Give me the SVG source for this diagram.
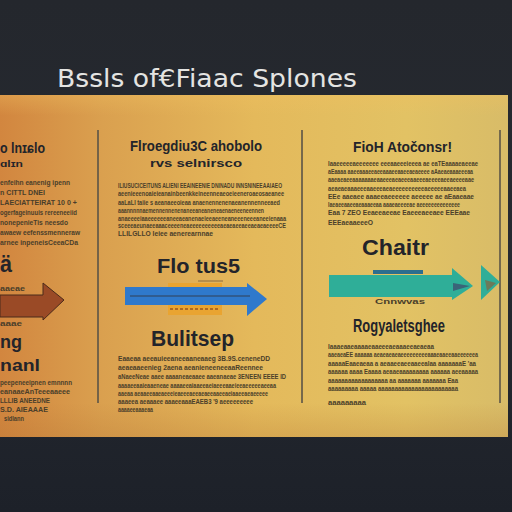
<svg xmlns="http://www.w3.org/2000/svg" width="512" height="512" viewBox="0 0 512 512">
<defs>
<linearGradient id="bg" x1="0" y1="0" x2="0" y2="1">
<stop offset="0" stop-color="#24272d"/><stop offset="0.5" stop-color="#262a31"/><stop offset="1" stop-color="#1d2129"/>
</linearGradient>
<linearGradient id="panel" x1="0" y1="0" x2="1" y2="0">
<stop offset="0" stop-color="#d2863f"/><stop offset="0.2" stop-color="#daa04f"/><stop offset="0.5" stop-color="#e4b95b"/><stop offset="0.8" stop-color="#e2c264"/><stop offset="1" stop-color="#d8bc68"/>
</linearGradient>
<linearGradient id="shade" x1="0" y1="0" x2="0" y2="1">
<stop offset="0" stop-color="#f0c060" stop-opacity="0.35"/><stop offset="0.06" stop-color="#f0c060" stop-opacity="0"/><stop offset="0.9" stop-color="#b07030" stop-opacity="0"/><stop offset="1" stop-color="#b07030" stop-opacity="0.25"/>
</linearGradient>
</defs>
<style>
.title{font-family:"DejaVu Sans","Liberation Sans",sans-serif;font-size:25px;fill:#e4e4e2}
.h{font-family:"Liberation Sans",Arial,sans-serif;font-weight:bold;fill:#23242a}
.b{font-family:"Liberation Sans",Arial,sans-serif;font-weight:bold;font-size:6.5px;fill:#4a3e2a}
.div{stroke:#5b5446;stroke-width:1.6}
</style>
<rect width="512" height="512" fill="url(#bg)"/>
<text class="title" x="57" y="87" textLength="300" lengthAdjust="spacingAndGlyphs">Bssls of€Fiaac Splones</text>
<rect x="0" y="95" width="508" height="342" fill="url(#panel)"/>
<rect x="0" y="95" width="508" height="342" fill="url(#shade)"/>
<g id="dividers">
<line class="div" x1="98" y1="130" x2="98" y2="403"/>
<line class="div" x1="302" y1="130" x2="302" y2="403"/>
<line class="div" x1="500" y1="130" x2="500" y2="403"/>
</g>
<g id="col-left">
<text class="h" x="0" y="153" font-size="14" textLength="45" lengthAdjust="spacingAndGlyphs">o lnɪɕlo</text>
<text class="h" x="0" y="167" font-size="9" textLength="23" lengthAdjust="spacingAndGlyphs">ɑlɪn</text>
<g class="b">
<text x="0" y="185" textLength="70" lengthAdjust="spacingAndGlyphs">enfeihn eanenig ipenn</text>
<text x="0" y="195" textLength="45" lengthAdjust="spacingAndGlyphs">n CITTL DNEI</text>
<text x="0" y="205" textLength="77" lengthAdjust="spacingAndGlyphs">LAECIATTEIRAT 10 0 +</text>
<text x="0" y="215" textLength="77" lengthAdjust="spacingAndGlyphs">ogerfageinuuis rereeneeiid</text>
<text x="0" y="225" textLength="68" lengthAdjust="spacingAndGlyphs">nonepenieTis neesdo</text>
<text x="0" y="235" textLength="80" lengthAdjust="spacingAndGlyphs">awaew eefenssmenneraw</text>
<text x="0" y="245" textLength="78" lengthAdjust="spacingAndGlyphs">arnee inpeneisCeeaCDa</text>
</g>
<text class="h" x="0" y="272" font-size="24" textLength="12" lengthAdjust="spacingAndGlyphs">ä</text>
<text class="h" x="0" y="348" font-size="19" textLength="22" lengthAdjust="spacingAndGlyphs">ng</text>
<text class="h" x="0" y="371" font-size="16" textLength="40" lengthAdjust="spacingAndGlyphs">nanl</text>
<g class="b">
<text x="0" y="385" textLength="72" lengthAdjust="spacingAndGlyphs">peepeneeipnen emnnnn</text>
<text x="0" y="394" textLength="70" lengthAdjust="spacingAndGlyphs">eanaaeAnTeeeaaeee</text>
<text x="0" y="403" textLength="50" lengthAdjust="spacingAndGlyphs">LLLIB ANEEDNE</text>
<text x="0" y="412" textLength="48" lengthAdjust="spacingAndGlyphs">S.D. AIEAAAE</text>
<text x="4" y="421" textLength="20" lengthAdjust="spacingAndGlyphs">sidlann</text>
</g>
</g>
<g id="col-middle">
<text class="h" x="130" y="151" font-size="14" textLength="132" lengthAdjust="spacingAndGlyphs">Flroegdiu3C ahobolo</text>
<text class="h" x="150" y="167" font-size="11" textLength="92" lengthAdjust="spacingAndGlyphs">rvs selnirsco</text>
<g class="b">
<text x="118" y="188" textLength="164" lengthAdjust="spacingAndGlyphs">ILIUSUCICEITUNS ALIENI EEAINEENIE DNINADU INNSNINEEAAIAEO</text>
<text x="118" y="196" textLength="166" lengthAdjust="spacingAndGlyphs">aeenieeenoaieieanainbeenkkeineenneaeoeieeneroaeosaeanee</text>
<text x="118" y="205" textLength="162" lengthAdjust="spacingAndGlyphs">aaLaLI taiie s aeanaeeoieaa anaenennenenaeanennenneeaed</text>
<text x="118" y="213" textLength="146" lengthAdjust="spacingAndGlyphs">aaannnnnaemennennenenaneeaneaneneaenaeneeneennen</text>
<text x="118" y="221" textLength="168" lengthAdjust="spacingAndGlyphs">anaeeeeiaaeeeeeeaneeaeanenaeieeaeeneaneeeneeeaneeienaaa</text>
<text x="118" y="228" textLength="168" lengthAdjust="spacingAndGlyphs">sceeeaeunaeeaaaceeeeneaeeeeeeeeeeaeaeaeeaeeaeaeaeeeeCE</text>
<text x="118" y="236" textLength="95" lengthAdjust="spacingAndGlyphs">LLILGLLO Ieiee aenerearnnae</text>
</g>
<text class="h" x="157" y="273" font-size="20" textLength="83" lengthAdjust="spacingAndGlyphs">Flo tus5</text>
<text class="h" x="151" y="346" font-size="22" textLength="83" lengthAdjust="spacingAndGlyphs">Bulitsep</text>
<g class="b">
<text x="118" y="361" textLength="152" lengthAdjust="spacingAndGlyphs">Eaaeaa aeeauieeaneeaaneaaeg 3B.9S.ceneneDD</text>
<text x="118" y="370" textLength="145" lengthAdjust="spacingAndGlyphs">aeaeaaeenieg 2aena aeanieneeneeaaReennee</text>
<text x="118" y="379" textLength="168" lengthAdjust="spacingAndGlyphs">aNaeeNeae aaee aaaaneaeaaee aaeanaeae 3ENEEN EEEE ID</text>
<text x="118" y="388" textLength="158" lengthAdjust="spacingAndGlyphs">aaaaeeaaieaaeneae aaaaeeaiaaeeaeiaeeeaaeieeaeeeeeaeeaa</text>
<text x="118" y="396" textLength="150" lengthAdjust="spacingAndGlyphs">aaeaa aeaaeeaaeaeeeieaeeeaeeaeaeeaaeeaeiaaeeaeaeeeee</text>
<text x="118" y="404" textLength="135" lengthAdjust="spacingAndGlyphs">aaaeea aeaaaee aaaeeaaaEAEB3 '9 aeeeeeeeee</text>
<text x="118" y="412" textLength="35" lengthAdjust="spacingAndGlyphs">aaaaeeaaaeaa</text>
</g>
</g>
<g id="col-right">
<text class="h" x="353" y="152" font-size="15" textLength="99" lengthAdjust="spacingAndGlyphs">FioH Atočonsr!</text>
<g class="b">
<text x="328" y="166" textLength="150" lengthAdjust="spacingAndGlyphs">Iaaeeeeeaeeeeeee eeeaaeeeieeea ae eaTEaaaaeaeeae</text>
<text x="328" y="174" textLength="145" lengthAdjust="spacingAndGlyphs">aEaaaa aaeeaaaeeaeeaaaeeaaeeaeaeeee aAaeaeaaaeeeaa</text>
<text x="328" y="182" textLength="146" lengthAdjust="spacingAndGlyphs">aaeaeaeeaaaaaaaeaaeeeaeaeeeaaeeeaeeeeaeeaeeeeaae</text>
<text x="328" y="191" textLength="138" lengthAdjust="spacingAndGlyphs">aeaeaeaaaeeeaaeeeaeaeeeeeeeeeeaeeeeeaaeeaea</text>
<text x="328" y="199" textLength="146" lengthAdjust="spacingAndGlyphs">EEe aaeaee aaaeeaeeeeee aeeeee ae aEaaeaae</text>
<text x="328" y="207" textLength="132" lengthAdjust="spacingAndGlyphs">Iaeaeeaaeeaeaaaeeaa aaaeaeeeeae aeeeeeeeeeeeeee</text>
<text x="328" y="215" textLength="142" lengthAdjust="spacingAndGlyphs">Eaa 7 ZEO Eeaeeaeeae Eaeeeaeeaee EEEaae</text>
<text x="328" y="225" textLength="45" lengthAdjust="spacingAndGlyphs">EEEaeaaeeeO</text>
</g>
<text class="h" x="362" y="255" font-size="22" textLength="67" lengthAdjust="spacingAndGlyphs">Chaitr</text>
<text class="b" x="375" y="304" textLength="50" lengthAdjust="spacingAndGlyphs">Cnnwvas</text>
<text class="h" x="353" y="332" font-size="18" textLength="92" lengthAdjust="spacingAndGlyphs">Rogyaletsghee</text>
<g class="b">
<text x="328" y="349" textLength="106" lengthAdjust="spacingAndGlyphs">Iaaaeaaeaaaaeaaeeeaeaaaeeaeaeaa</text>
<text x="328" y="357" textLength="150" lengthAdjust="spacingAndGlyphs">aaeaeaEE aaaaaa aeaeaeaeaeeeeeeeeeaaaeaaeeaaeeeeeea</text>
<text x="328" y="366" textLength="148" lengthAdjust="spacingAndGlyphs">aaaaaEaaeaeaa a aeaaeeaeeaaeeaIaa aaaaaaaE 'aa</text>
<text x="328" y="374" textLength="150" lengthAdjust="spacingAndGlyphs">aaaaaa aaaa Eaaaa aeaaeaaaaaaaaa aaaaaa aeeaaaaa</text>
<text x="328" y="383" textLength="130" lengthAdjust="spacingAndGlyphs">aaaaaaaaaaaaaaaaaa aa aaaaaaa aaaaaaa Eaa</text>
<text x="328" y="391" textLength="130" lengthAdjust="spacingAndGlyphs">aaaaaaaaa aaaaa aaaaaaaaaaaaaaaaaaaaaaaa</text>
<text x="328" y="405" textLength="38" lengthAdjust="spacingAndGlyphs">aaaaaaaaa</text>
</g>
</g>
<g id="connectors">
<g id="arrow-left">
<path d="M0 295 H43 V283 L64 300 L43 320 V317 H0 Z" fill="#9a4a26" stroke="#4a2a1a" stroke-width="1"/>
<text class="b" x="0" y="291" textLength="25" lengthAdjust="spacingAndGlyphs" fill="#7a6a40">aaeae</text>
<text class="b" x="0" y="326" textLength="22" lengthAdjust="spacingAndGlyphs" fill="#7a6a40">aaae</text>
</g>
<g id="arrow-middle">
<rect x="168" y="283" width="54" height="32" fill="#e9a431"/>
<line x1="198" y1="281" x2="223" y2="281" stroke="#8a6a40" stroke-width="1"/>
<path d="M125 287 H247 V283 L267 299 L247 316 V305 H125 Z" fill="#2f79cc"/>
<rect x="168" y="305" width="54" height="10" fill="#e9a431"/>
<line x1="130" y1="296" x2="250" y2="296" stroke="#334055" stroke-width="1"/>
<line x1="170" y1="309" x2="220" y2="309" stroke="#b06a20" stroke-width="2" stroke-dasharray="3 2"/>
</g>
<g id="arrow-right">
<path d="M329 275 H452 V268 L473 286 L452 300 V297 H329 Z" fill="#2fae98"/>
<rect x="373" y="270" width="50" height="4" fill="#2c6e8e"/>
<path d="M453 283 L470 286 L453 291 Z" fill="#3a6478"/>
<path d="M481 265 L500 282 L481 300 Z" fill="#2fae98"/>
<path d="M485 280 L496 283 L487 291 Z" fill="#6b7a5a"/>
</g>
</g>
</svg>
